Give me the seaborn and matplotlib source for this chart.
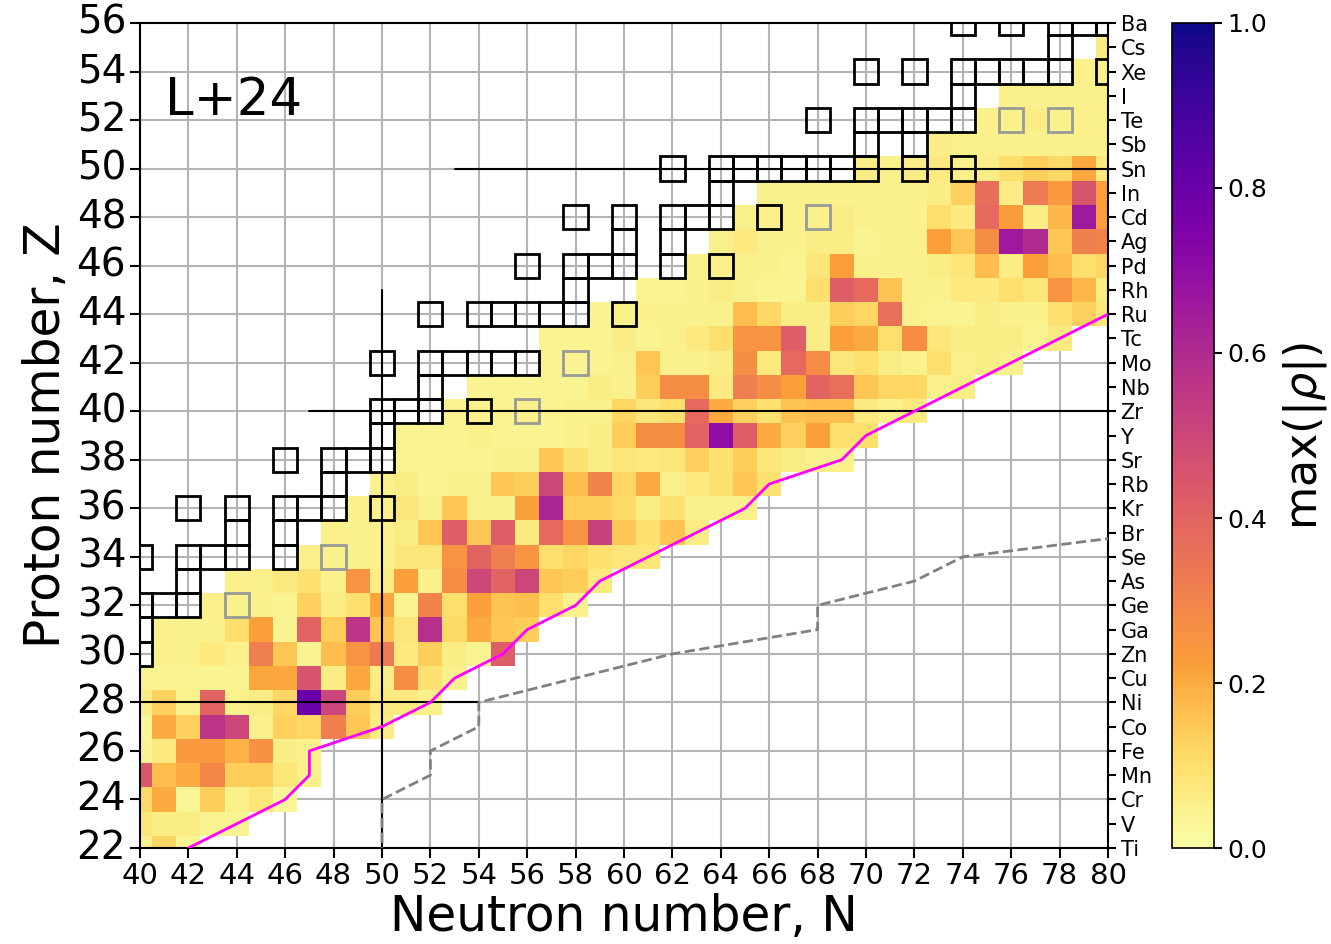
import numpy as np
import pandas as pd
import matplotlib
matplotlib.use("Agg")
import matplotlib.pyplot as plt
import matplotlib.transforms as mtransforms
from matplotlib.colors import ListedColormap
from matplotlib.patches import Rectangle
import seaborn as sns

# ---------------- data ----------------
N_range = (40, 80)
Z_range = (22, 56)
x_ticks = list(range(40, 81, 2))
y_ticks = list(range(22, 57, 2))
elements = ["Ti", "V", "Cr", "Mn", "Fe", "Co", "Ni", "Cu", "Zn", "Ga", "Ge", "As",
            "Se", "Br", "Kr", "Rb", "Sr", "Y", "Zr", "Nb", "Mo", "Tc", "Ru", "Rh",
            "Pd", "Ag", "Cd", "In", "Sn", "Sb", "Te", "I", "Xe", "Cs", "Ba"]

# max(|rho|) per proton number Z: (first N of the row, values for consecutive N)
rho_z22 = (40, [0.05, 0.12, 0.04])
rho_z23 = (40, [0.08, 0.06, 0.06, 0.04, 0.04])
rho_z24 = (40, [0.11, 0.20, 0.03, 0.14, 0.05, 0.08, 0.03])
rho_z25 = (40, [0.44, 0.17, 0.20, 0.29, 0.14, 0.14, 0.08, 0.05])
rho_z26 = (40, [0.04, 0.07, 0.24, 0.24, 0.19, 0.26, 0.06, 0.05])
rho_z27 = (40, [0.03, 0.20, 0.13, 0.56, 0.50, 0.05, 0.13, 0.12, 0.31, 0.15, 0.06])
rho_z28 = (40, [0.06, 0.13, 0.05, 0.40, 0.05, 0.06, 0.12, 0.80, 0.50, 0.14, 0.07, 0.07, 0.05])
rho_z29 = (40, [0.04, 0.04, 0.04, 0.04, 0.04, 0.21, 0.21, 0.45, 0.06, 0.21, 0.06, 0.27, 0.09, 0.05])
rho_z30 = (41, [0.05, 0.05, 0.07, 0.05, 0.32, 0.15, 0.04, 0.17, 0.25, 0.33, 0.07, 0.14, 0.06, 0.04, 0.42])
rho_z31 = (41, [0.05, 0.05, 0.05, 0.10, 0.22, 0.04, 0.40, 0.14, 0.56, 0.16, 0.08, 0.58, 0.11, 0.20, 0.15, 0.14])
rho_z32 = (43, [0.05, 0.05, 0.05, 0.04, 0.13, 0.06, 0.09, 0.21, 0.04, 0.30, 0.10, 0.22, 0.16, 0.17, 0.10, 0.05])
rho_z33 = (44, [0.05, 0.05, 0.07, 0.09, 0.05, 0.25, 0.06, 0.22, 0.05, 0.27, 0.50, 0.40, 0.50, 0.15, 0.14, 0.07])
rho_z34 = (47, [0.05, 0.05, 0.05, 0.05, 0.08, 0.08, 0.25, 0.40, 0.32, 0.25, 0.10, 0.12, 0.09, 0.08, 0.08])
rho_z35 = (48, [0.05, 0.05, 0.05, 0.06, 0.15, 0.42, 0.15, 0.42, 0.07, 0.38, 0.25, 0.52, 0.15, 0.09, 0.16, 0.06])
rho_z36 = (49, [0.05, 0.05, 0.08, 0.05, 0.15, 0.05, 0.05, 0.22, 0.62, 0.14, 0.14, 0.11, 0.06, 0.09, 0.05, 0.05, 0.05])
rho_z37 = (50, [0.05, 0.06, 0.04, 0.05, 0.05, 0.15, 0.14, 0.50, 0.17, 0.30, 0.12, 0.20, 0.05, 0.07, 0.09, 0.15, 0.09])
rho_z38 = (51, [0.04, 0.04, 0.04, 0.04, 0.05, 0.05, 0.15, 0.09, 0.06, 0.08, 0.07, 0.08, 0.13, 0.09, 0.14, 0.08, 0.06, 0.05, 0.05])
rho_z39 = (51, [0.04, 0.04, 0.04, 0.05, 0.04, 0.04, 0.04, 0.05, 0.06, 0.14, 0.27, 0.27, 0.40, 0.70, 0.42, 0.20, 0.13, 0.22, 0.09, 0.10])
rho_z40 = (53, [0.04, 0.05, 0.04, 0.05, 0.04, 0.05, 0.05, 0.12, 0.08, 0.10, 0.38, 0.20, 0.13, 0.09, 0.16, 0.17, 0.17, 0.07, 0.05, 0.07])
rho_z41 = (54, [0.04, 0.04, 0.04, 0.04, 0.04, 0.06, 0.05, 0.14, 0.27, 0.27, 0.07, 0.32, 0.27, 0.22, 0.40, 0.36, 0.15, 0.12, 0.12, 0.05, 0.06])
rho_z42 = (57, [0.04, 0.04, 0.04, 0.05, 0.15, 0.05, 0.05, 0.06, 0.27, 0.07, 0.38, 0.28, 0.08, 0.10, 0.06, 0.05, 0.10, 0.05, 0.06, 0.05])
rho_z43 = (57, [0.04, 0.04, 0.04, 0.06, 0.04, 0.05, 0.07, 0.10, 0.25, 0.25, 0.42, 0.06, 0.22, 0.20, 0.10, 0.27, 0.08, 0.06, 0.06, 0.06, 0.04, 0.07])
rho_z44 = (59, [0.04, 0.05, 0.05, 0.05, 0.05, 0.05, 0.17, 0.12, 0.06, 0.06, 0.14, 0.12, 0.36, 0.05, 0.04, 0.04, 0.06, 0.05, 0.05, 0.09, 0.13, 0.08])
rho_z45 = (61, [0.04, 0.04, 0.05, 0.06, 0.05, 0.04, 0.04, 0.10, 0.42, 0.38, 0.16, 0.05, 0.05, 0.07, 0.07, 0.10, 0.08, 0.25, 0.18, 0.06])
rho_z46 = (63, [0.05, 0.05, 0.05, 0.05, 0.04, 0.08, 0.22, 0.05, 0.05, 0.05, 0.06, 0.08, 0.17, 0.06, 0.22, 0.17, 0.10, 0.12])
rho_z47 = (64, [0.05, 0.07, 0.05, 0.05, 0.06, 0.06, 0.04, 0.05, 0.05, 0.22, 0.15, 0.27, 0.66, 0.60, 0.15, 0.31, 0.30])
rho_z48 = (65, [0.05, 0.05, 0.05, 0.05, 0.06, 0.05, 0.05, 0.05, 0.10, 0.07, 0.38, 0.23, 0.06, 0.18, 0.66, 0.22])
rho_z49 = (66, [0.05, 0.05, 0.05, 0.05, 0.05, 0.05, 0.05, 0.06, 0.13, 0.37, 0.06, 0.33, 0.24, 0.45, 0.22])
rho_z50 = (70, [0.06, 0.05, 0.06, 0.07, 0.05, 0.06, 0.10, 0.14, 0.11, 0.21, 0.07])
rho_z51 = (73, [0.06, 0.05, 0.05, 0.05, 0.05, 0.05, 0.05, 0.05])
rho_z52 = (75, [0.05, 0.05, 0.06, 0.05, 0.05, 0.05])
rho_z53 = (76, [0.05, 0.05, 0.05, 0.05, 0.05])
rho_z54 = (79, [0.05, 0.05])
rho_z55 = (80, [0.07])

rho_rows = {22: rho_z22, 23: rho_z23, 24: rho_z24, 25: rho_z25, 26: rho_z26,
            27: rho_z27, 28: rho_z28, 29: rho_z29, 30: rho_z30, 31: rho_z31,
            32: rho_z32, 33: rho_z33, 34: rho_z34, 35: rho_z35, 36: rho_z36,
            37: rho_z37, 38: rho_z38, 39: rho_z39, 40: rho_z40, 41: rho_z41,
            42: rho_z42, 43: rho_z43, 44: rho_z44, 45: rho_z45, 46: rho_z46,
            47: rho_z47, 48: rho_z48, 49: rho_z49, 50: rho_z50, 51: rho_z51,
            52: rho_z52, 53: rho_z53, 54: rho_z54, 55: rho_z55}

# stable nuclides (neutron numbers per Z) and long-lived double-beta ones
stable_N = {30: [40], 31: [40], 32: [40, 41, 42], 33: [42], 34: [40, 42, 43, 44, 46],
            35: [44, 46], 36: [42, 44, 46, 47, 48, 50], 37: [48], 38: [46, 48, 49, 50],
            39: [50], 40: [50, 51, 52, 54], 41: [52], 42: [50, 52, 53, 54, 55, 56],
            44: [52, 54, 55, 56, 57, 58, 60], 45: [58], 46: [56, 58, 59, 60, 62, 64],
            47: [60, 62], 48: [58, 60, 62, 63, 64, 66], 49: [64],
            50: [62, 64, 65, 66, 67, 68, 69, 70, 72, 74], 51: [70, 72],
            52: [68, 70, 71, 72, 73, 74], 53: [74], 54: [70, 72, 74, 75, 76, 77, 78, 80],
            55: [78], 56: [74, 76, 78, 79, 80]}
dbeta_N = [44, 48, 56, 58, 68, 76, 78]
dbeta_Z = [32, 34, 40, 42, 48, 52, 52]

# limit lines
path_N = [42, 46, 47, 47, 50, 52, 53, 55, 56, 58, 59, 65, 66, 69, 70, 80]
path_Z = [22, 24, 25, 26, 27, 28, 29, 30, 31, 32, 33, 36, 37, 38, 39, 44]
drip_N = [50, 50, 52, 52, 54, 54, 62, 68, 68, 72, 74, 82]
drip_Z = [21, 24, 25, 26, 27, 28, 30, 31, 32, 33, 34, 35]
magic_h = [(28, 40, 54), (40, 47, 81), (50, 53, 81)]   # (Z, N from, N to)
magic_v = [(50, 21, 45)]                              # (N, Z from, Z to)

# ---------------- build table ----------------
N_cols = list(range(N_range[0], N_range[1] + 1))
Z_rows = list(range(Z_range[0], Z_range[1] + 1))
table = pd.DataFrame(np.nan, index=Z_rows, columns=N_cols)
for z, (n0, vals) in rho_rows.items():
    for k, v in enumerate(vals):
        table.loc[z, n0 + k] = v

# colormap: plasma_r with the low end softened towards white
v = np.linspace(0, 1, 256)
cols = plt.get_cmap("plasma_r")(v)
w = 0.6 * np.clip(1 - v / 0.22, 0, 1)
cols[:, :3] = cols[:, :3] * (1 - w[:, None]) + w[:, None]
cmap = ListedColormap(cols)

# ---------------- figure ----------------
sns.set_style("white")
plt.rcParams["font.family"] = ["DejaVu Sans"]
plt.rcParams["text.color"] = "black"
plt.rcParams["axes.labelcolor"] = "black"
plt.rcParams["xtick.color"] = "black"
plt.rcParams["ytick.color"] = "black"
plt.rcParams["axes.edgecolor"] = "black"

fig = plt.figure(figsize=(13.31, 9.44), dpi=100)
ax = fig.add_axes([0.10518, 0.10169, 0.72728, 0.87395])
cax = fig.add_axes([0.8805, 0.10169, 0.0318, 0.87395])

sns.heatmap(table, ax=ax, cmap=cmap, vmin=0, vmax=1, cbar_ax=cax,
            mask=table.isna(), linewidths=0)
mesh = ax.collections[0]
mesh.set_transform(mtransforms.Affine2D().translate(N_range[0] - 0.5, Z_range[0] - 0.5)
                   + ax.transData)

ax.set_xlim(*N_range)
ax.set_ylim(*Z_range)
ax.set_xticks(x_ticks)
ax.set_xticklabels([str(t) for t in x_ticks], fontsize=21, rotation=0, color="black")
ax.set_yticks(y_ticks)
ax.set_yticklabels([str(t) for t in y_ticks], fontsize=28, rotation=0, color="black")
ax.tick_params(axis="both", direction="out", length=7, width=1.5, color="black",
               labelcolor="black", left=True, bottom=True, pad=3)
ax.grid(True, color="#b4b4b4", lw=1.5)
ax.set_axisbelow(True)
for s in ax.spines.values():
    s.set_visible(True)
    s.set_color("black")
    s.set_linewidth(1.5)

ax.set_xlabel("Neutron number, N", fontsize=35, labelpad=2, color="black")
ax.set_ylabel("Proton number, Z", fontsize=35, labelpad=5, color="black")

# stable nuclei boxes
for z, ns in stable_N.items():
    for n in ns:
        ax.add_patch(Rectangle((n - 0.5, z - 0.5), 1, 1, fill=False, ec="black",
                               lw=2.0, zorder=3))
for n, z in zip(dbeta_N, dbeta_Z):
    ax.add_patch(Rectangle((n - 0.5, z - 0.5), 1, 1, fill=False, ec="#999999",
                           lw=2.0, zorder=3))

# magic number lines
for z, n1, n2 in magic_h:
    ax.plot([n1, n2], [z, z], color="black", lw=1.5, zorder=4)
for n, z1, z2 in magic_v:
    ax.plot([n, n], [z1, z2], color="black", lw=1.5, zorder=4)

ax.plot(path_N, path_Z, color="magenta", lw=2, zorder=5)
ax.plot(drip_N, drip_Z, color="gray", lw=2, ls="--", zorder=5)

ax.text(0.026, 0.905, "L+24", transform=ax.transAxes, fontsize=37,
        ha="left", va="center", color="black")

# element symbols on the right
ax2 = ax.twinx()
ax2.set_ylim(*Z_range)
ax2.set_yticks(list(range(Z_range[0], Z_range[1] + 1)))
ax2.set_yticklabels(elements, fontsize=15, color="black")
ax2.tick_params(axis="y", direction="out", length=6, width=1.5, color="black",
                labelcolor="black", pad=3)
for s in ax2.spines.values():
    s.set_visible(False)

# colorbar
cbar = mesh.colorbar
cbar.set_ticks([0.0, 0.2, 0.4, 0.6, 0.8, 1.0])
cbar.set_ticklabels(["0.0", "0.2", "0.4", "0.6", "0.8", "1.0"])
cbar.ax.tick_params(labelsize=18, length=6, width=1.5, color="black", labelcolor="black")
cbar.outline.set_visible(True)
cbar.outline.set_edgecolor("black")
cbar.outline.set_linewidth(1.2)
cbar.set_label(r"max($|\rho|$)", fontsize=32, labelpad=10, color="black")

fig.savefig("out.png", dpi=100)
